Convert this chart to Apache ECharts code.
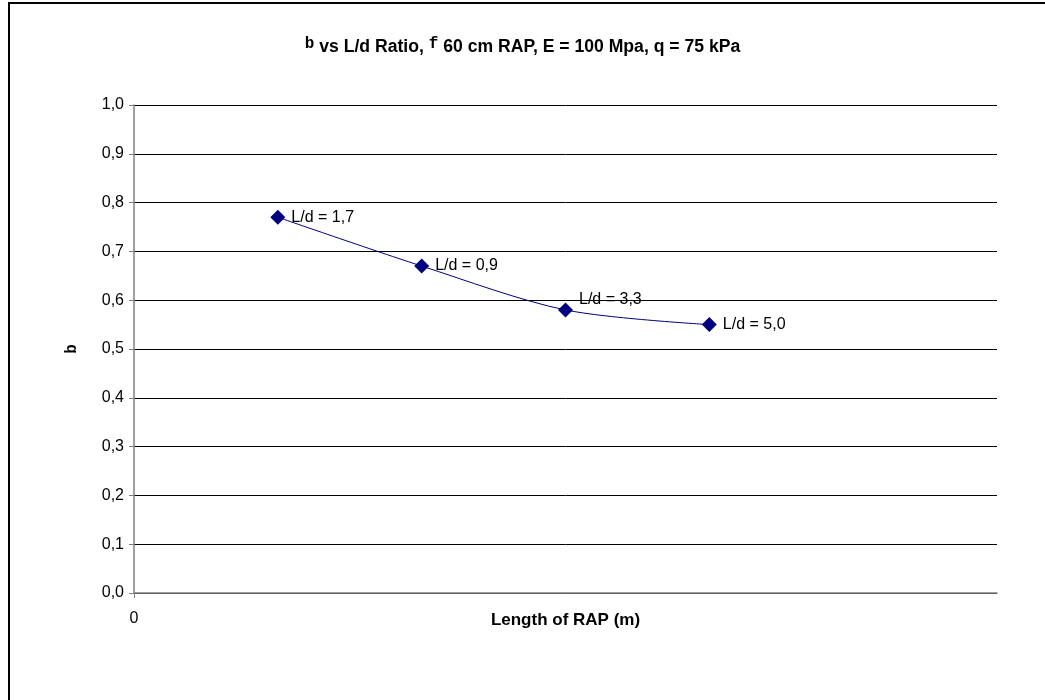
<!DOCTYPE html>
<html><head><meta charset="utf-8">
<script src="https://cdn.jsdelivr.net/npm/echarts@6/dist/echarts.min.js"></script>
<style>html,body{margin:0;padding:0;background:#fff}#c{width:1045px;height:700px}</style>
</head><body><div id="c"></div>
<script>
const xValues = [1, 2, 3, 4];
const yValues = [0.77, 0.67, 0.58, 0.55];
const pointLabels = ['L/d = 1,7', 'L/d = 0,9', 'L/d = 3,3', 'L/d = 5,0'];
const xAxisLabels = ['0'];
const titleParts = ['b', ' vs L/d Ratio, ', 'f', ' 60 cm RAP, E = 100 Mpa, q = 75 kPa'];

const labelOffsets = [[0, 0], [0, 0], [0, -10], [0, 0]];
const data = xValues.map((x, i) => ({
  value: [x, yValues[i]],
  label: { formatter: pointLabels[i], offset: labelOffsets[i] }
}));

const chart = echarts.init(document.getElementById('c'));
chart.setOption({
  backgroundColor: '#fff',
  animation: false,
  title: {
    left: 'center', top: 31,
    text: '{sym|' + titleParts[0] + '}{t|' + titleParts[1] + '}{sym|' + titleParts[2] + '}{t|' + titleParts[3] + '}',
    textStyle: {
      rich: {
        t: { fontFamily: 'Liberation Sans', fontWeight: 'bold', fontSize: 17.6, color: '#000' },
        sym: { fontFamily: 'Liberation Mono', fontWeight: 'bold', fontSize: 16, color: '#000', padding: [0, 0, 6, 0] }
      }
    }
  },
  graphic: [{
    type: 'rect', shape: { x: 9, y: 3, width: 1200, height: 900 },
    style: { fill: 'none', stroke: '#000', lineWidth: 2 }, silent: true
  }],
  grid: { left: 134, right: 48, top: 105, bottom: 107 },
  xAxis: {
    type: 'value', min: 0, max: 6, interval: 1,
    name: 'Length of RAP (m)', nameLocation: 'middle', nameGap: 27, nameMoveOverlap: false,
    nameTextStyle: { fontFamily: 'Liberation Sans', fontWeight: 'bold', fontSize: 17, color: '#000', verticalAlign: 'middle' },
    axisLine: { show: true, onZero: false, lineStyle: { color: '#808080', width: 1.5 } },
    axisTick: { show: true, length: 5, inside: false, customValues: [0], lineStyle: { color: '#808080' } },
    axisLabel: { customValues: [0], formatter: v => xAxisLabels[0], fontFamily: 'Liberation Sans', fontSize: 16, color: '#000', margin: 18 },
    splitLine: { show: false }
  },
  yAxis: {
    type: 'value', min: 0, max: 1, interval: 0.1,
    name: 'b', nameLocation: 'middle', nameGap: 54, nameRotate: 90, nameMoveOverlap: false,
    nameTextStyle: { fontFamily: 'Liberation Mono', fontWeight: 'bold', fontSize: 16, color: '#000' },
    axisLine: { show: true, lineStyle: { color: '#808080', width: 1.5 } },
    axisTick: { show: true, length: 5, lineStyle: { color: '#808080' } },
    axisLabel: { formatter: v => v.toFixed(1).replace('.', ','), fontFamily: 'Liberation Sans', fontSize: 16, color: '#000', margin: 10 },
    splitLine: { show: true, lineStyle: { color: '#000', width: 1 } }
  },
  series: [{
    type: 'line', data: data, smooth: 0.3,
    symbol: 'diamond', symbolSize: 15,
    itemStyle: { color: '#000080' },
    lineStyle: { color: '#000080', width: 1 },
    label: { show: true, position: 'right', distance: 6, fontFamily: 'Liberation Sans', fontSize: 16, color: '#000' }
  }]
});
</script></body></html>
